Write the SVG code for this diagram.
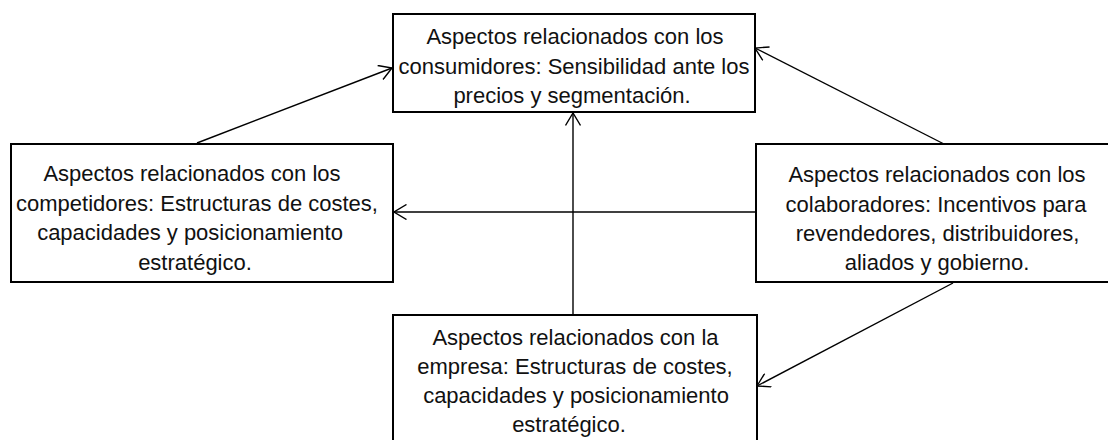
<svg xmlns="http://www.w3.org/2000/svg" width="1108" height="440" viewBox="0 0 1108 440">
<style>
.box{fill:#fff;stroke:#000;stroke-width:2}
.lbl{font-family:"Liberation Sans",Arial,sans-serif;font-size:22px;fill:#111;text-anchor:middle}
.con{fill:none;stroke:#000;stroke-width:1.4}
</style>
<defs>
<marker id="arr" markerUnits="userSpaceOnUse" viewBox="0 0 14 16" markerWidth="14" markerHeight="16" refX="13" refY="8" orient="auto">
<path d="M0.5,0.5 L13,8 L0.5,15.5" fill="none" stroke="#000" stroke-width="1.4"/>
</marker>
</defs>
<rect width="1108" height="440" fill="#fff"/>
<g id="connectors">
<line class="con" x1="197" y1="143" x2="392" y2="68" marker-end="url(#arr)"/>
<line class="con" x1="944" y1="144" x2="755" y2="48" marker-end="url(#arr)"/>
<line class="con" x1="573" y1="314" x2="573" y2="113" marker-end="url(#arr)"/>
<line class="con" x1="756" y1="212" x2="394" y2="212" marker-end="url(#arr)"/>
<line class="con" x1="953" y1="283" x2="757" y2="386" marker-end="url(#arr)"/>
</g>
<g id="consumidores">
<rect class="box" x="393" y="14" width="362" height="98"/>
<text class="lbl"><tspan x="575" y="44">Aspectos relacionados con los</tspan><tspan x="574" y="73.5">consumidores: Sensibilidad ante los</tspan><tspan x="572" y="103">precios y segmentación.</tspan></text>
</g>
<g id="competidores">
<rect class="box" x="11" y="144" width="382" height="138"/>
<text class="lbl"><tspan x="192" y="181">Aspectos relacionados con los</tspan><tspan x="197" y="210.5">competidores: Estructuras de costes,</tspan><tspan x="190" y="240">capacidades y posicionamiento</tspan><tspan x="195" y="269.5">estratégico.</tspan></text>
</g>
<g id="colaboradores">
<rect class="box" x="756" y="144" width="400" height="138"/>
<text class="lbl"><tspan x="937" y="181.5">Aspectos relacionados con los</tspan><tspan x="936" y="211.5">colaboradores: Incentivos para</tspan><tspan x="937.5" y="241">revendedores, distribuidores,</tspan><tspan x="937" y="270">aliados y gobierno.</tspan></text>
</g>
<g id="empresa">
<rect class="box" x="393" y="315" width="364" height="140"/>
<text class="lbl"><tspan x="575.5" y="345">Aspectos relacionados con la</tspan><tspan x="575" y="374">empresa: Estructuras de costes,</tspan><tspan x="576" y="403">capacidades y posicionamiento</tspan><tspan x="569" y="432">estratégico.</tspan></text>
</g>
</svg>
